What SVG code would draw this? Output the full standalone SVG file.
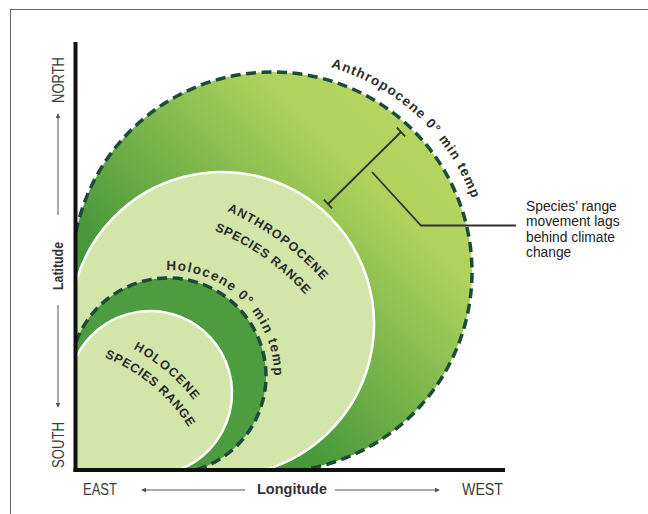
<svg xmlns="http://www.w3.org/2000/svg" xmlns:xlink="http://www.w3.org/1999/xlink" width="648" height="514" viewBox="0 0 648 514">
<style>
.dash{fill:none;stroke:#1d4b3b;stroke-width:3.5;stroke-dasharray:10 5.5}
.wline{fill:none;stroke:#ffffff;stroke-width:2.5}
.light{fill:#d2e6aa}
.axis{stroke:#111;stroke-width:4;fill:none}
.thin{stroke:#555;stroke-width:1;fill:none}
.ax{font-family:"Liberation Sans",Arial,sans-serif;font-size:16px;fill:#3c3c3c}
.axb{font-family:"Liberation Sans",Arial,sans-serif;font-size:14px;font-weight:bold;fill:#333}
.arc{font-family:"Liberation Sans",Arial,sans-serif;font-size:13.5px;font-weight:bold;fill:#2e2e2e}
.cap{font-family:"Liberation Sans",Arial,sans-serif;font-size:12.5px;font-weight:bold;fill:#2a2a2a}
.note{font-family:"Liberation Sans",Arial,sans-serif;font-size:13.8px;fill:#222}
.lead{stroke:#333;stroke-width:1.8;fill:none}
</style>
<defs>
<linearGradient id="gBig" gradientUnits="userSpaceOnUse" x1="110" y1="420" x2="400" y2="130">
<stop offset="0" stop-color="#3a8f37"/>
<stop offset="0.3" stop-color="#4a9a3b"/>
<stop offset="0.85" stop-color="#aed25c"/>
<stop offset="1" stop-color="#b4d660"/>
</linearGradient>
<marker id="arr" viewBox="0 0 6 6" refX="5" refY="3" markerWidth="5" markerHeight="5" orient="auto">
<path d="M0,0 L6,3 L0,6 z" fill="#555"/>
</marker>
<path id="pAnthTemp" d="M330.7,67.2 A213,213 0 0 1 481.8,309"/>
<path id="pHoloTemp" d="M166.2,270 A106,106 0 0 1 267.6,412.3"/>
<path id="pAnthro1" d="M170.4,193.8 A271,271 0 0 1 356.6,328.8"/>
<path id="pAnthro2" d="M164.7,216.1 A248,248 0 0 1 335.6,336.5"/>
<path id="pHolo1" d="M91.2,332 A195,195 0 0 1 217.3,438.8"/>
<path id="pHolo2" d="M84.7,350.8 A175,175 0 0 1 198.4,445.5"/>
</defs>

<g id="frame">
<line x1="10" y1="9.5" x2="648" y2="9.5" stroke="#666" stroke-width="1"/>
<line x1="10.5" y1="9" x2="10.5" y2="514" stroke="#666" stroke-width="1"/>
</g>

<g id="anthropocene-temp">
<path d="M76,232.2 A200,200 0 1 1 300.2,470 L76,470 Z" fill="url(#gBig)"/>
<path class="dash" d="M76,232.2 A200,200 0 1 1 300.2,470"/>
<text class="arc"><textPath xlink:href="#pAnthTemp" href="#pAnthTemp" textLength="200" lengthAdjust="spacing">Anthropocene 0° min temp</textPath></text>
</g>

<g id="anthropocene-range">
<path class="light" d="M76,281.7 A152,152 0 1 1 264.3,470 L76,470 Z"/>
<path class="wline" d="M76,281.7 A152,152 0 1 1 264.3,470"/>
<text class="cap"><textPath xlink:href="#pAnthro1" href="#pAnthro1" startOffset="50%" text-anchor="middle" textLength="119" lengthAdjust="spacing">ANTHROPOCENE</textPath></text>
<text class="cap"><textPath xlink:href="#pAnthro2" href="#pAnthro2" startOffset="50%" text-anchor="middle" textLength="112" lengthAdjust="spacing">SPECIES RANGE</textPath></text>
</g>

<g id="holocene-temp">
<path d="M76,342.2 A98,98 0 1 1 195.7,470 L76,470 Z" fill="#4d9c3f"/>
<path class="dash" d="M76,342.2 A98,98 0 1 1 195.7,470"/>
<text class="arc"><textPath xlink:href="#pHoloTemp" href="#pHoloTemp" textLength="168" lengthAdjust="spacing">Holocene 0° min temp</textPath></text>
</g>

<g id="holocene-range">
<path class="light" d="M76,357.7 A82,82 0 1 1 178.2,470 L76,470 Z"/>
<path class="wline" d="M76,357.7 A82,82 0 1 1 178.2,470"/>
<text class="cap"><textPath xlink:href="#pHolo1" href="#pHolo1" startOffset="50%" text-anchor="middle" textLength="80" lengthAdjust="spacing">HOLOCENE</textPath></text>
<text class="cap"><textPath xlink:href="#pHolo2" href="#pHolo2" startOffset="50%" text-anchor="middle" textLength="111" lengthAdjust="spacing">SPECIES RANGE</textPath></text>
</g>

<g id="axes">
<line class="axis" x1="75.5" y1="42" x2="75.5" y2="472"/>
<line class="axis" x1="73.5" y1="470" x2="505" y2="470"/>
<line class="thin" x1="58" y1="215" x2="58" y2="114" marker-end="url(#arr)"/>
<line class="thin" x1="58" y1="305" x2="58" y2="407" marker-end="url(#arr)"/>
<line class="thin" x1="245" y1="490" x2="142" y2="490" marker-end="url(#arr)"/>
<line class="thin" x1="335" y1="490" x2="439" y2="490" marker-end="url(#arr)"/>
<text class="ax" transform="translate(64,80) rotate(-90)" text-anchor="middle" textLength="46" lengthAdjust="spacingAndGlyphs">NORTH</text>
<text class="axb" transform="translate(63,266) rotate(-90)" text-anchor="middle" textLength="48" lengthAdjust="spacingAndGlyphs">Latitude</text>
<text class="ax" transform="translate(64,445) rotate(-90)" text-anchor="middle" textLength="46" lengthAdjust="spacingAndGlyphs">SOUTH</text>
<text class="ax" x="83" y="495" textLength="34" lengthAdjust="spacingAndGlyphs">EAST</text>
<text class="axb" x="257" y="493.5" textLength="70" lengthAdjust="spacingAndGlyphs" style="font-size:15.5px">Longitude</text>
<text class="ax" x="462" y="495" textLength="41" lengthAdjust="spacingAndGlyphs">WEST</text>
</g>

<g id="connectors">
<line class="lead" x1="328" y1="204" x2="401" y2="132"/>
<line class="lead" x1="396.8" y1="127.7" x2="405.2" y2="136.3"/>
<line class="lead" x1="323.8" y1="199.7" x2="332.2" y2="208.3"/>
<polyline class="lead" points="372,172 421,225.5 516,225.5"/>
</g>

<g id="annotation">
<text class="note" x="526" y="210.5">Species’ range</text>
<text class="note" x="526" y="226">movement lags</text>
<text class="note" x="526" y="241.5">behind climate</text>
<text class="note" x="526" y="257">change</text>
</g>
</svg>
